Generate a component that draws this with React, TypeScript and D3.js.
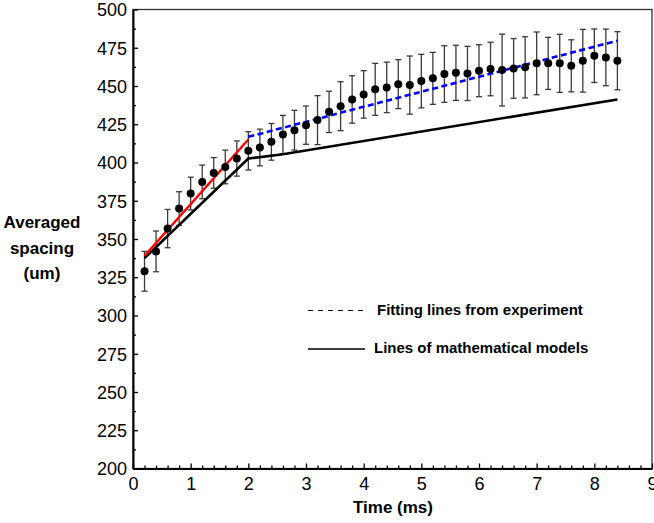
import { useEffect, useRef } from "react";
import * as d3 from "d3";

const times = [
  0.2, 0.4, 0.6, 0.8, 1.0, 1.2, 1.4, 1.6, 1.8, 2.0, 2.2, 2.4, 2.6, 2.8, 3.0,
  3.2, 3.4, 3.6, 3.8, 4.0, 4.2, 4.4, 4.6, 4.8, 5.0, 5.2, 5.4, 5.6, 5.8, 6.0,
  6.2, 6.4, 6.6, 6.8, 7.0, 7.2, 7.4, 7.6, 7.8, 8.0, 8.2, 8.4,
];
const spacing = [
  328.9, 341.9, 356.8, 369.9, 379.7, 387.3, 393.2, 397.1, 402.6, 407.6, 409.8,
  413.5, 418.3, 421.1, 424.4, 427.7, 433.1, 436.8, 441.2, 444.5, 447.8, 449.1,
  451.2, 450.6, 453.2, 455.0, 457.8, 458.6, 458.2, 460.0, 461.1, 460.4, 461.5,
  462.2, 464.8, 464.8, 464.8, 463.2, 466.5, 469.8, 468.7, 466.5,
];
const errors = [
  13, 13.3, 12.5, 11, 10.7, 11, 10, 11, 11.5, 12.5, 12, 12, 12.5, 13, 12.5, 16,
  13.5, 16, 15.5, 15.5, 17, 16.5, 16, 19, 17.5, 17, 18.5, 18, 17.7, 17, 17.5,
  23.5, 19.5, 20, 20.5, 17, 19, 17, 20.5, 17.5, 18.5, 19,
];

// fitted lines (experiment) and model lines, as [time, spacing]
const fitEarly: [number, number][] = [[0.2, 339], [2.0, 415]];
const fitLate: [number, number][] = [[2.0, 416.8], [8.4, 479.6]];
const model: [number, number][] = [[0.2, 337.5], [2.0, 402.6], [2.6, 405.4], [8.4, 441.2]];

const xTicks = [0, 1, 2, 3, 4, 5, 6, 7, 8, 9];
const yTicks = [200, 225, 250, 275, 300, 325, 350, 375, 400, 425, 450, 475, 500];
const legendLabels = ["Fitting lines from experiment", "Lines of mathematical models"];
const yTitle = ["Averaged", "spacing", "(um)"];

const FONT = "Arial, 'Liberation Sans', Helvetica, sans-serif";

export default function App() {
  const svgRef = useRef<SVGSVGElement | null>(null);

  useEffect(() => {
    if (!svgRef.current) return;
    const root = d3.select(svgRef.current);
    root.selectAll("*").remove();

    const width = 654;
    const height = 523;
    const m = { left: 133, top: 9.5, right: 2, bottom: 54.5 };

    const x = d3.scaleLinear().domain([0, 9]).range([m.left, width - m.right]);
    const y = d3.scaleLinear().domain([200, 500]).range([height - m.bottom, m.top]);

    // frame
    root
      .append("rect")
      .attr("x", x(0))
      .attr("y", y(500))
      .attr("width", x(9) - x(0))
      .attr("height", y(200) - y(500))
      .attr("fill", "none")
      .attr("stroke", "#333")
      .attr("stroke-width", 1.3);

    // x axis
    const xAxis = root
      .append("g")
      .attr("transform", `translate(0,${y(200)})`)
      .call(d3.axisBottom(x).tickValues(xTicks).tickSizeInner(-5).tickSizeOuter(0).tickFormat(d3.format("d")));
    root
      .append("g")
      .attr("transform", `translate(0,${y(200)})`)
      .call(d3.axisBottom(x).tickValues(d3.range(0.2, 9, 0.2).filter((v) => Math.abs(v - Math.round(v)) > 0.01)).tickSizeInner(-3).tickSizeOuter(0).tickFormat(() => ""))
      .call((g) => g.select(".domain").remove());
    xAxis.selectAll("text").attr("dy", "1.05em");

    // y axis
    const yAxis = root
      .append("g")
      .attr("transform", `translate(${x(0)},0)`)
      .call(d3.axisLeft(y).tickValues(yTicks).tickSizeInner(-5).tickSizeOuter(0).tickPadding(6));
    root
      .append("g")
      .attr("transform", `translate(${x(0)},0)`)
      .call(d3.axisLeft(y).tickValues(yTicks.slice(0, -1).map((v) => v + 12.5)).tickSizeInner(-3).tickSizeOuter(0).tickFormat(() => ""))
      .call((g) => g.select(".domain").remove());

    root.selectAll(".domain").attr("stroke", "#000").attr("stroke-width", 2);
    root.selectAll(".tick line").attr("stroke", "#000").attr("stroke-width", 1.3);
    root
      .selectAll(".tick text")
      .attr("font-family", FONT)
      .attr("font-size", 18)
      .attr("fill", "#000");
    yAxis.selectAll("text").attr("dy", "0.36em");

    // error bars
    const bars = root.append("g").attr("stroke", "#3a3a3a").attr("stroke-width", 1.3);
    times.forEach((t, i) => {
      const cx = x(t);
      const top = y(spacing[i] + errors[i]);
      const bot = y(spacing[i] - errors[i]);
      bars.append("line").attr("x1", cx).attr("x2", cx).attr("y1", top).attr("y2", bot);
      bars.append("line").attr("x1", cx - 3).attr("x2", cx + 3).attr("y1", top).attr("y2", top);
      bars.append("line").attr("x1", cx - 3).attr("x2", cx + 3).attr("y1", bot).attr("y2", bot);
    });

    const line = d3
      .line<[number, number]>()
      .x((d) => x(d[0]))
      .y((d) => y(d[1]));

    root
      .append("path")
      .attr("d", line(model))
      .attr("fill", "none")
      .attr("stroke", "#000")
      .attr("stroke-width", 2.6);
    root
      .append("path")
      .attr("d", line(fitEarly))
      .attr("fill", "none")
      .attr("stroke", "#ff0000")
      .attr("stroke-width", 2.4);
    root
      .append("path")
      .attr("d", line(fitLate))
      .attr("fill", "none")
      .attr("stroke", "#0000ff")
      .attr("stroke-width", 2.6)
      .attr("stroke-dasharray", "6,3.5");

    // points
    root
      .append("g")
      .selectAll("circle")
      .data(times)
      .enter()
      .append("circle")
      .attr("cx", (d) => x(d))
      .attr("cy", (_d, i) => y(spacing[i]))
      .attr("r", 4)
      .attr("fill", "#000");

    // legend
    const legend = root.append("g");
    legend
      .append("line")
      .attr("x1", 308)
      .attr("x2", 368)
      .attr("y1", 310.5)
      .attr("y2", 310.5)
      .attr("stroke", "#000")
      .attr("stroke-width", 1.1)
      .attr("stroke-dasharray", "5,5");
    legend
      .append("line")
      .attr("x1", 308)
      .attr("x2", 365)
      .attr("y1", 349)
      .attr("y2", 349)
      .attr("stroke", "#000")
      .attr("stroke-width", 1.3);
    legend
      .selectAll("text")
      .data(legendLabels)
      .enter()
      .append("text")
      .attr("x", (_d, i) => (i === 0 ? 377 : 374))
      .attr("y", (_d, i) => 315 + i * 38)
      .attr("font-family", FONT)
      .attr("font-size", 15)
      .attr("font-weight", "bold")
      .text((d) => d);

    // axis titles
    root
      .append("text")
      .attr("x", 393)
      .attr("y", 513)
      .attr("text-anchor", "middle")
      .attr("font-family", FONT)
      .attr("font-size", 17)
      .attr("font-weight", "bold")
      .text("Time (ms)");
    root
      .append("g")
      .selectAll("text")
      .data(yTitle)
      .enter()
      .append("text")
      .attr("x", 42)
      .attr("y", (_d, i) => 228 + i * 25.5)
      .attr("text-anchor", "middle")
      .attr("font-family", FONT)
      .attr("font-size", 17)
      .attr("font-weight", "bold")
      .text((d) => d);
  }, []);

  return (
    <div style={{ position: "absolute", left: 0, top: 0, width: 654, height: 523, background: "#fff" }}>
      <svg ref={svgRef} width={654} height={523} style={{ display: "block" }} />
    </div>
  );
}
